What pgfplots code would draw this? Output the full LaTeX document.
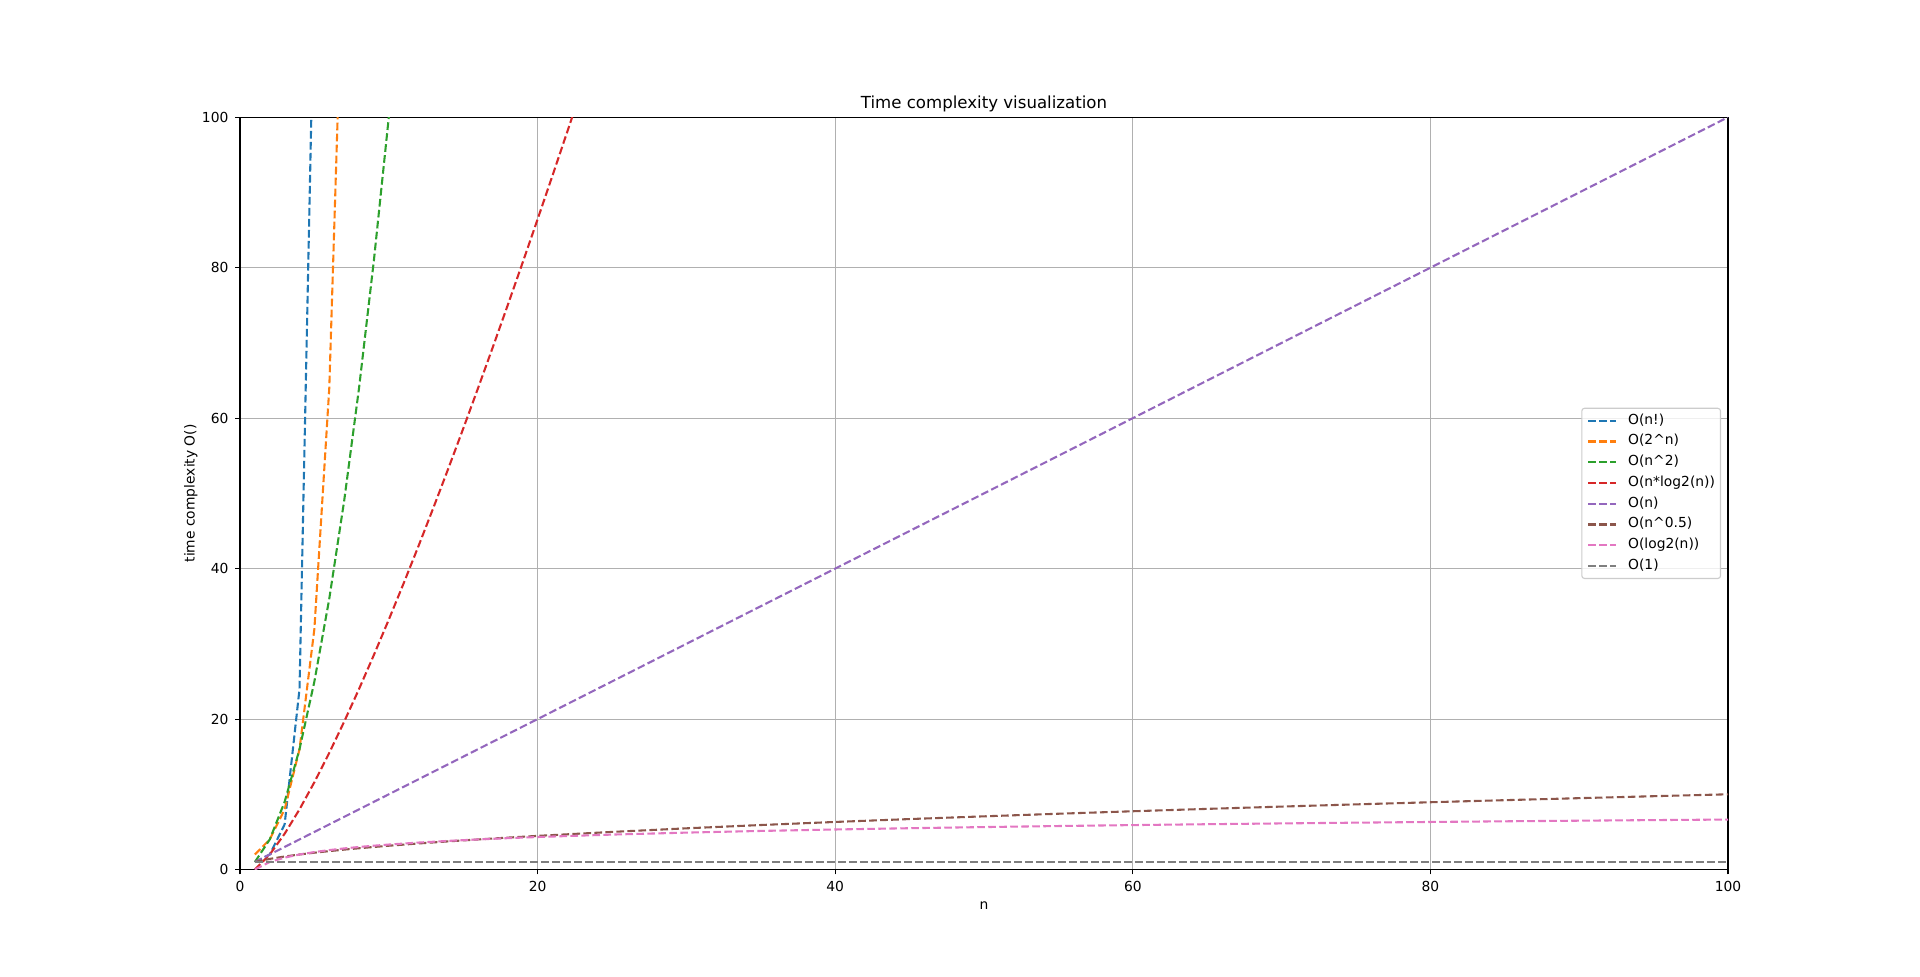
\documentclass[border=0pt]{standalone}
\usepackage{fontspec}
\setmainfont{DejaVu Sans}
\usepackage{pgfplots}
\pgfplotsset{compat=1.18}
\definecolor{cA}{HTML}{1F77B4}
\definecolor{cB}{HTML}{FF7F0E}
\definecolor{cC}{HTML}{2CA02C}
\definecolor{cD}{HTML}{D62728}
\definecolor{cE}{HTML}{9467BD}
\definecolor{cF}{HTML}{8C564B}
\definecolor{cG}{HTML}{E377C2}
\definecolor{cH}{HTML}{7F7F7F}
\definecolor{gridgray}{HTML}{B0B0B0}
\definecolor{framegray}{HTML}{CCCCCC}
\pgfplotsset{
  mpl/.style={line width=1.5pt, dash pattern=on 5.55pt off 2.4pt, mark=none, line cap=butt},
}
\begin{document}
\begin{tikzpicture}
\begin{axis}[
  name=ax,
  scale only axis,
  width=14.88in, height=7.5229in,
  xmin=0, xmax=100, ymin=0, ymax=100,
  xtick={0,20,40,60,80,100},
  ytick={0,20,40,60,80,100},
  xtick pos=left, ytick pos=left,
  tick align=outside,
  major tick length=3.5pt,
  tick style={black, line width=0.8pt},
  axis line style={black, line width=0.8pt},
  grid=major,
  major grid style={gridgray, line width=0.8pt},
  /pgf/number format/assume math mode=true,
  tick label style={font=\normalsize},
  xticklabel style={inner sep=0pt, anchor=north, yshift=-4.7pt},
  yticklabel style={inner sep=0pt, anchor=east, xshift=-4.7pt},
  title={Time complexity visualization},
  every axis title/.style={at={(axis description cs:0.5,1)}, anchor=base, yshift=6pt, font=\fontsize{12}{14.4}\selectfont},
  xlabel={n},
  every axis x label/.style={at={(axis description cs:0.5,0)}, anchor=base, yshift=-29.2pt, font=\normalsize},
  ylabel={time complexity O()},
  every axis y label/.style={at={(axis description cs:-0.0252,0.5)}, rotate=90, anchor=south, font=\normalsize},
  legend cell align=left,
  legend image code/.code={\draw[#1] (0pt,0pt) -- (20pt,0pt);},
  legend style={at={(0.99534,0.5)}, anchor=east, fill=white, fill opacity=0.8, text opacity=1,
    draw=framegray, line width=0.8pt, rounded corners=2pt,
    inner xsep=4pt, inner ysep=4pt, row sep=5pt,
    nodes={inner sep=0pt, text height=7.5pt, text depth=2.5pt},
    /tikz/every odd column/.append style={column sep=8pt},
    font=\normalsize},
]
% O(n!)
\addplot[mpl, cA] coordinates {(1,1) (2,2) (3,6) (4,24) (5,120)};
\addlegendentry{O(n!)}
% O(2^n)
\addplot[mpl, cB] coordinates {(1,2) (2,4) (3,8) (4,16) (5,32) (6,64) (7,128)};
\addlegendentry{O(2\textasciicircum n)}
% O(n^2)
\addplot[mpl, cC] coordinates {(1,1) (2,4) (3,9) (4,16) (5,25) (6,36) (7,49) (8,64) (9,81) (10,100) (11,121)};
\addlegendentry{O(n\textasciicircum 2)}
% O(n log2 n)
\addplot[mpl, cD] coordinates {
  (1,0) (2,2) (3,4.7549) (4,8) (5,11.6096) (6,15.5098) (7,19.6515) (8,24)
  (9,28.5293) (10,33.2193) (11,38.0537) (12,43.0196) (13,48.1057) (14,53.3031)
  (15,58.6034) (16,64) (17,69.4876) (18,75.0587) (19,80.7101) (20,86.4386)
  (21,92.2385) (22,98.1069) (23,104.0419)};
\addlegendentry{O(n*log2(n))}
% O(n)
\addplot[mpl, cE] coordinates {(1,1) (100,100)};
\addlegendentry{O(n)}
% O(n^0.5)
\addplot[mpl, cF] coordinates {
  (1,1) (2,1.4142) (3,1.7321) (4,2) (5,2.2361) (6,2.4495) (7,2.6458) (8,2.8284)
  (9,3) (10,3.1623) (12,3.4641) (14,3.7417) (16,4) (18,4.2426) (20,4.4721)
  (25,5) (30,5.4772) (35,5.9161) (40,6.3246) (45,6.7082) (50,7.0711) (55,7.4162)
  (60,7.7460) (65,8.0623) (70,8.3666) (75,8.6603) (80,8.9443) (85,9.2195)
  (90,9.4868) (95,9.7468) (100,10)};
\addlegendentry{O(n\textasciicircum 0.5)}
% O(log2 n)
\addplot[mpl, cG] coordinates {
  (1,0) (2,1) (3,1.585) (4,2) (5,2.3219) (6,2.585) (7,2.8074) (8,3)
  (9,3.1699) (10,3.3219) (12,3.585) (14,3.8074) (16,4) (18,4.1699) (20,4.3219)
  (25,4.6439) (30,4.9069) (35,5.1293) (40,5.3219) (45,5.4919) (50,5.6439) (55,5.7814)
  (60,5.9069) (65,6.0224) (70,6.1293) (75,6.2288) (80,6.3219) (85,6.4094)
  (90,6.4919) (95,6.5699) (100,6.6439)};
\addlegendentry{O(log2(n))}
% O(1)
\addplot[mpl, cH] coordinates {(1,1) (100,1)};
\addlegendentry{O(1)}
\end{axis}
\pgfresetboundingbox
\path ([xshift=-2.4in,yshift=-1.0747in]ax.south west) rectangle ([xshift=1.92in,yshift=1.1724in]ax.north east);
\end{tikzpicture}
\end{document}
